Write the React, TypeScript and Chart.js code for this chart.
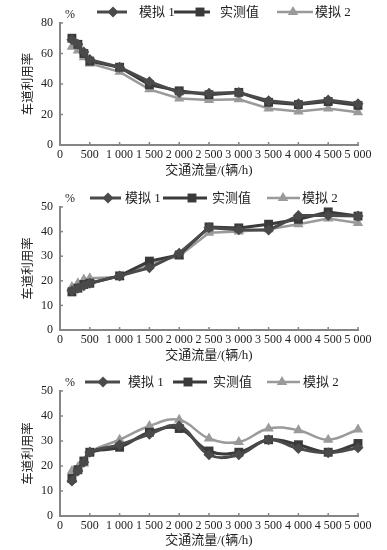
import React, { useEffect, useRef } from "react";
import { Chart, registerables } from "chart.js";
Chart.register(...registerables);

// ---------- data ----------
const flows = [200, 300, 400, 500, 1000, 1500, 2000, 2500, 3000, 3500, 4000, 4500, 5000];
const seriesNames = ["模拟 1", "实测值", "模拟 2"];
const xTitle = "交通流量/(辆/h)";
const yTitle = "车道利用率";
const unitLabel = "%";

// chart 1 (top)
const a_sim1 = [69, 66, 61, 56, 51, 41.5, 34.5, 34, 34.5, 29, 27, 29.5, 27];
const a_meas = [70, 66, 60, 55, 51, 39.5, 35.5, 33, 34.5, 28, 26.5, 28.5, 26];
const a_sim2 = [64.5, 62, 57.5, 53.5, 48, 36.5, 30.5, 29.5, 30, 24, 22, 24, 21.5];
// chart 2 (middle)
const b_sim1 = [16, 17, 18, 19, 22, 25.3, 31.2, 41.6, 40.8, 40.6, 46.5, 46.5, 46.3];
const b_meas = [15.5, 17, 18.5, 19, 22, 28, 30.5, 41.9, 41.5, 43, 45, 48, 46.3];
const b_sim2 = [17.5, 19, 20.5, 21, 21.5, 27, 30, 39.5, 40, 41, 43, 45.3, 43.5];
// chart 3 (bottom)
const c_sim1 = [14, 18, 21.5, 25.5, 28.5, 32.7, 36, 24.5, 24.5, 30.5, 27, 25.3, 27.3];
const c_meas = [15, 18.5, 22, 25.5, 27.5, 33.5, 35, 26, 25.5, 30.5, 28.5, 25.5, 29];
const c_sim2 = [18, 19.5, 21, 25.5, 30.5, 36, 38.5, 31, 29.6, 35, 34.3, 30.5, 34.6];

const yMaxes = [80, 50, 50];
const ySteps = [20, 10, 10];

// ---------- styles ----------
const colors = ["#4a4a4a", "#3a3a3a", "#9a9a9a"];
const markers = ["rectRot", "rect", "triangle"];
const markerRadius = [5.5, 6.3, 6];
const lineWidths = [3, 3, 2.5];
const axisColor = "#858585";
const textColor = "#222222";
const serif = "'Liberation Serif', 'Noto Sans CJK SC', serif";

type Layout = {
  top: number;
  height: number;
  plotTop: number;
  plotBottom: number;
  legendY: number;
  pctY: number;
  items: { x1: number; x2: number; mx: number; tx: number }[];
  tension: number;
};

const layouts: Layout[] = [
  {
    top: 0, height: 180, plotTop: 23, plotBottom: 145, legendY: 12, pctY: 15, tension: 0,
    items: [
      { x1: 97, x2: 127, mx: 113, tx: 139 },
      { x1: 174, x2: 210, mx: 200, tx: 220 },
      { x1: 277, x2: 313, mx: 293, tx: 315 },
    ],
  },
  {
    top: 180, height: 185, plotTop: 27, plotBottom: 150, legendY: 18, pctY: 19, tension: 0,
    items: [
      { x1: 90, x2: 121, mx: 108, tx: 125 },
      { x1: 163, x2: 207, mx: 192, tx: 212 },
      { x1: 267, x2: 300, mx: 283, tx: 302 },
    ],
  },
  {
    top: 365, height: 185, plotTop: 26, plotBottom: 151, legendY: 17, pctY: 18, tension: 0.4,
    items: [
      { x1: 85, x2: 120, mx: 103, tx: 128 },
      { x1: 173, x2: 207, mx: 188, tx: 213 },
      { x1: 267, x2: 300, mx: 282, tx: 303 },
    ],
  },
];

const allData = [
  [a_sim1, a_meas, a_sim2],
  [b_sim1, b_meas, b_sim2],
  [c_sim1, c_meas, c_sim2],
];

function fmtFlow(v: number): string {
  if (v >= 1000) {
    const th = Math.floor(v / 1000);
    const rest = String(v % 1000).padStart(3, "0");
    return th + " " + rest;
  }
  return String(v);
}

function drawMarker(ctx: CanvasRenderingContext2D, style: string, x: number, y: number, r: number, color: string) {
  ctx.save();
  ctx.fillStyle = color;
  ctx.beginPath();
  if (style === "rectRot") {
    ctx.moveTo(x, y - r);
    ctx.lineTo(x + r, y);
    ctx.lineTo(x, y + r);
    ctx.lineTo(x - r, y);
  } else if (style === "rect") {
    const s = r * Math.SQRT1_2;
    ctx.rect(x - s, y - s, 2 * s, 2 * s);
  } else {
    for (let i = 0; i < 3; i++) {
      const a = (i * 2 * Math.PI) / 3;
      const px = x + Math.sin(a) * r;
      const py = y - Math.cos(a) * r;
      if (i === 0) ctx.moveTo(px, py);
      else ctx.lineTo(px, py);
    }
  }
  ctx.closePath();
  ctx.fill();
  ctx.restore();
}

const decorPlugin = {
  id: "decor",
  afterDraw(chart: any, _args: any, opts: any) {
    const layout: Layout = opts.layout;
    const ctx: CanvasRenderingContext2D = chart.ctx;
    ctx.save();
    // inward tick marks
    const xs = chart.scales.x;
    const ys = chart.scales.y;
    const area = chart.chartArea;
    ctx.strokeStyle = axisColor;
    ctx.lineWidth = 1.5;
    xs.ticks.forEach((t: any) => {
      if (t.value === 0) return;
      const px = xs.getPixelForValue(t.value);
      ctx.beginPath();
      ctx.moveTo(px, area.bottom);
      ctx.lineTo(px, area.bottom - 3);
      ctx.stroke();
    });
    ys.ticks.forEach((t: any) => {
      if (t.value === 0) return;
      const py = ys.getPixelForValue(t.value);
      ctx.beginPath();
      ctx.moveTo(area.left, py);
      ctx.lineTo(area.left + 3, py);
      ctx.stroke();
    });
    // % label
    ctx.fillStyle = textColor;
    ctx.font = "12px " + serif;
    ctx.textAlign = "center";
    ctx.textBaseline = "middle";
    ctx.fillText(unitLabel, 70, layout.pctY);
    // legend
    layout.items.forEach((it, i) => {
      ctx.strokeStyle = colors[i];
      ctx.lineWidth = lineWidths[i];
      ctx.beginPath();
      ctx.moveTo(it.x1, layout.legendY);
      ctx.lineTo(it.x2, layout.legendY);
      ctx.stroke();
      drawMarker(ctx, markers[i], it.mx, layout.legendY, markerRadius[i], colors[i]);
      ctx.fillStyle = textColor;
      ctx.font = "13px " + serif;
      ctx.textAlign = "left";
      ctx.textBaseline = "middle";
      ctx.fillText(seriesNames[i], it.tx, layout.legendY + 1);
    });
    ctx.restore();
  },
};

function LineChart({ idx }: { idx: number }) {
  const ref = useRef<HTMLCanvasElement | null>(null);
  const layout = layouts[idx];
  useEffect(() => {
    if (!ref.current) return;
    const series = allData[idx];
    const chart = new Chart(ref.current, {
      type: "line",
      data: {
        datasets: series.map((vals, i) => ({
          label: seriesNames[i],
          data: flows.map((f, k) => ({ x: f, y: vals[k] })),
          borderColor: colors[i],
          backgroundColor: colors[i],
          borderWidth: lineWidths[i],
          pointStyle: markers[i] as any,
          pointRadius: markerRadius[i],
          pointBorderWidth: 0,
          pointBackgroundColor: colors[i],
          tension: layout.tension,
          clip: false as any,
        })),
      },
      options: {
        responsive: false,
        animation: false,
        layout: { padding: { left: 0, right: 29, top: layout.plotTop, bottom: 0 } },
        plugins: {
          legend: { display: false },
          tooltip: { enabled: false },
          decor: { layout },
        } as any,
        scales: {
          x: {
            type: "linear",
            min: 0,
            max: 5000,
            grid: { display: false, drawTicks: false },
            border: { display: true, color: axisColor, width: 2 },
            ticks: {
              stepSize: 500,
              autoSkip: false,
              maxRotation: 0,
              padding: 3,
              color: textColor,
              font: { family: serif, size: 12 },
              callback: (v: any) => fmtFlow(Number(v)),
            },
            title: {
              display: true,
              text: xTitle,
              color: textColor,
              font: { family: serif, size: 13 },
              padding: { top: 0, bottom: 2 },
            },
            afterFit: (s: any) => {
              s.height = layout.height - layout.plotBottom;
            },
          },
          y: {
            min: 0,
            max: yMaxes[idx],
            grid: { display: false, drawTicks: false },
            border: { display: true, color: axisColor, width: 2 },
            ticks: {
              stepSize: ySteps[idx],
              padding: 7,
              color: textColor,
              font: { family: serif, size: 12 },
            },
            title: {
              display: true,
              text: yTitle,
              color: textColor,
              font: { family: serif, size: 12.5 },
              padding: { top: 21, bottom: 0 },
            },
            afterFit: (s: any) => {
              s.width = 60;
            },
          },
        },
      },
      plugins: [decorPlugin],
    });
    return () => chart.destroy();
  }, [idx]);
  return (
    <canvas
      ref={ref}
      width={387}
      height={layout.height}
      style={{ position: "absolute", left: 0, top: layout.top, width: 387, height: layout.height }}
    />
  );
}

export default function App() {
  return (
    <div style={{ position: "absolute", left: 0, top: 0, width: 387, height: 550, background: "#ffffff" }}>
      <LineChart idx={0} />
      <LineChart idx={1} />
      <LineChart idx={2} />
    </div>
  );
}
